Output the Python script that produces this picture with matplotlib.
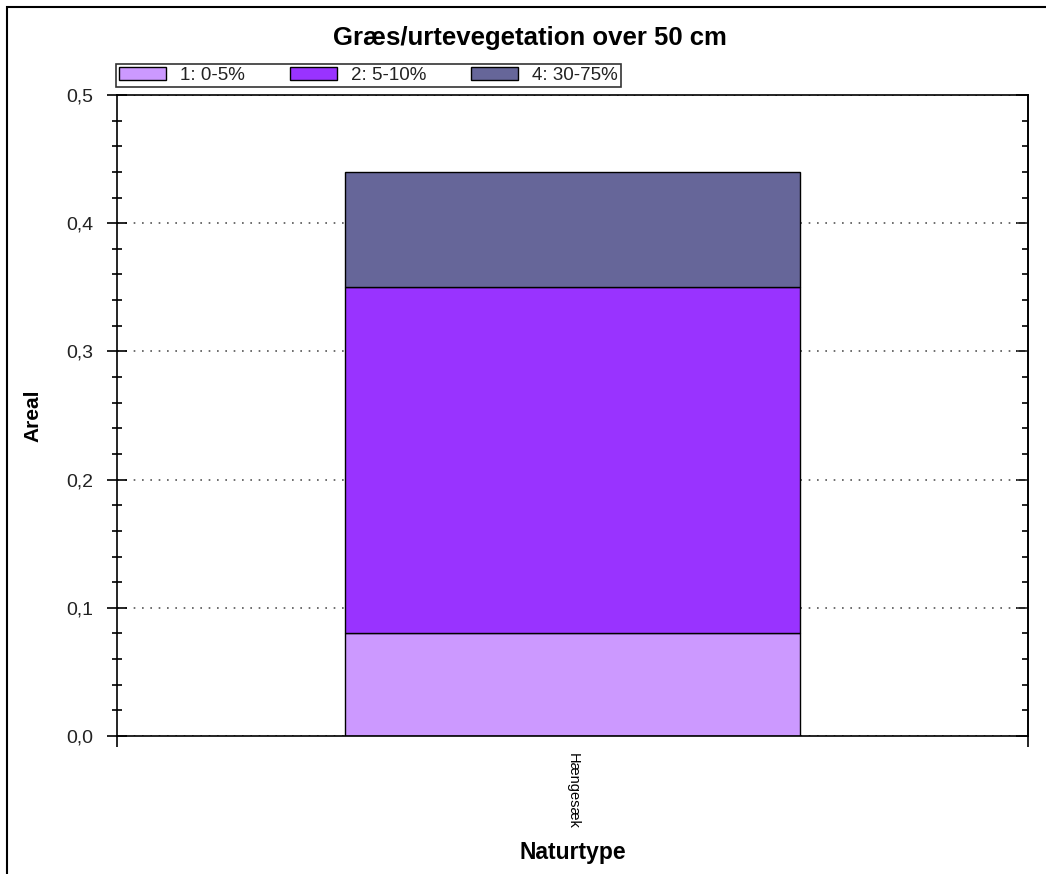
import numpy as np
import matplotlib.pyplot as plt
from matplotlib.patches import Rectangle
from matplotlib.ticker import MultipleLocator, FuncFormatter, NullFormatter

plt.rcParams['font.family'] = ['Liberation Sans', 'DejaVu Sans']

categories = ["Hængesæk"]
series_labels = ["1: 0-5%", "2: 5-10%", "4: 30-75%"]
series_values = [[0.08], [0.27], [0.09]]
colors = ["#CC99FF", "#9933FF", "#666699"]

W, H = 1046, 874
fig = plt.figure(figsize=(W / 100, H / 100), dpi=100)
ax = fig.add_axes([117 / W, 1 - 736 / H, (1028 - 117) / W, (736 - 95) / H])

x = np.arange(len(categories))
bottom = np.zeros(len(categories))
handles = []
for lab, vals, col in zip(series_labels, series_values, colors):
    b = ax.bar(x, vals, width=0.5, bottom=bottom, color=col, edgecolor="black",
               linewidth=1, label=lab, zorder=3)
    handles.append(b)
    bottom += np.array(vals)

ax.set_xlim(-0.5, len(categories) - 0.5)
ax.set_ylim(0, 0.5)

ax.yaxis.set_major_locator(MultipleLocator(0.1))
ax.yaxis.set_minor_locator(MultipleLocator(0.02))
ax.yaxis.set_major_formatter(FuncFormatter(lambda v, p: f"{v:.1f}".replace(".", ",")))
ax.grid(axis="y", which="major", linestyle=(0, (1, 4)), color="#555555", linewidth=1.2, zorder=1)
ax.set_axisbelow(True)

ax.tick_params(axis="y", which="major", direction="inout", length=14, width=1.2,
               labelsize=14, labelcolor="#222222", pad=10, right=False)
ax.tick_params(axis="y", which="minor", direction="inout", length=7, width=1.2, right=False)

# inward ticks on the right side
rax = ax.secondary_yaxis("right")
rax.yaxis.set_major_locator(MultipleLocator(0.1))
rax.yaxis.set_minor_locator(MultipleLocator(0.02))
rax.yaxis.set_major_formatter(NullFormatter())
rax.tick_params(which="major", direction="in", length=9, width=1.2)
rax.tick_params(which="minor", direction="in", length=4, width=1.2)
rax.spines["right"].set_linewidth(1.2)

ax.set_xticks(x)
ax.set_xticklabels(categories, rotation=-90, fontsize=10.5)
ax.tick_params(axis="x", which="major", length=0, pad=12)
ax.set_xticks([-0.5, len(categories) - 0.5], minor=True)
ax.tick_params(axis="x", which="minor", direction="out", length=8, width=1.2)

for s in ax.spines.values():
    s.set_linewidth(1.2)
    s.set_zorder(5)

ax.set_ylabel("Areal", fontsize=15, fontweight="bold")
ax.yaxis.set_label_coords((42 - 117) / 911, 0.5)
ax.set_xlabel("Naturtype", fontsize=16.5, fontweight="bold", va="top")
ax.xaxis.set_label_coords(0.5, -(841 - 736) / 641)
fig.text(530 / W, 1 - 45 / H, "Græs/urtevegetation over 50 cm", ha="center", va="baseline",
         fontsize=18.5, fontweight="bold")

leg = ax.legend(handles=handles, labels=series_labels, ncol=3, loc="lower left",
                bbox_to_anchor=(-0.001, 1.0125), borderaxespad=0, frameon=True, fancybox=False,
                edgecolor="black", fontsize=13.5, handlelength=2.5, handleheight=0.62,
                columnspacing=2.4, borderpad=0.15, handletextpad=0.75)
leg.get_frame().set_linewidth(1.2)
for t in leg.get_texts():
    t.set_color("#222222")

fig.patches.append(Rectangle((7 / W, -1), 2, 1 - 7 / H + 1, transform=fig.transFigure,
                             fill=False, edgecolor="black", linewidth=1.5))

fig.savefig("out.png", dpi=100)
